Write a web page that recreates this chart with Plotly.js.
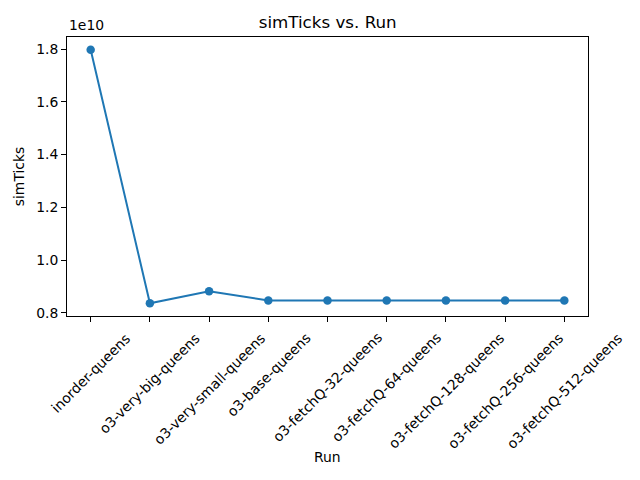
<!DOCTYPE html>
<html>
<head>
<meta charset="utf-8">
<script src="https://cdn.plot.ly/plotly-3.0.1.min.js"></script>
<style>
  html, body { margin: 0; padding: 0; background: #fff; }
  #chart { width: 640px; height: 480px; }
</style>
</head>
<body>
<div id="chart"></div>
<script>
// runs along the x axis
var runs = ['inorder-queens', 'o3-very-big-queens', 'o3-very-small-queens', 'o3-base-queens',
    'o3-fetchQ-32-queens', 'o3-fetchQ-64-queens', 'o3-fetchQ-128-queens',
    'o3-fetchQ-256-queens', 'o3-fetchQ-512-queens']
// simTicks per run
var simTicks = [1.7977e10, 0.836e10, 0.882e10, 0.847e10, 0.847e10, 0.847e10, 0.847e10, 0.847e10, 0.847e10]
var yTickVals = [0.8e10, 1.0e10, 1.2e10, 1.4e10, 1.6e10, 1.8e10]
var yTickText = ['0.8', '1.0', '1.2', '1.4', '1.6', '1.8']

var FONT = 'DejaVu Sans, sans-serif'
var FS = 13.9
var idx = runs.map(function (r, i) { return i })

var trace = {
    type: 'scatter',
    mode: 'lines+markers',
    x: idx,
    y: simTicks,
    line: { color: '#1f77b4', width: 2 },
    marker: { color: '#1f77b4', size: 8.5 },
    hoverinfo: 'x+y',
}

// matplotlib-style rotated labels, centred under each tick
var annotations = runs.map(function (r, i) {
    return {
        x: i, xref: 'x', y: 0, yref: 'paper',
        text: r, showarrow: false, textangle: -45,
        xanchor: 'center', yanchor: 'top', yshift: -11,
        font: { family: FONT, size: FS, color: '#000' },
    }
})
annotations.push({
    x: 0, xref: 'paper', y: 1, yref: 'paper', yshift: 2,
    text: '1e10', showarrow: false, xanchor: 'left', yanchor: 'bottom',
    font: { family: FONT, size: FS, color: '#000' },
})
annotations.push({
    x: 0.5, xref: 'paper', y: 0, yref: 'paper', yshift: -141,
    text: 'Run', showarrow: false, xanchor: 'center', yanchor: 'middle',
    font: { family: FONT, size: FS, color: '#000' },
})

var yMin = Math.min.apply(null, simTicks), yMax = Math.max.apply(null, simTicks)
var pad = (yMax - yMin) * 0.05

var layout = {
    width: 640,
    height: 480,
    margin: { l: 67, r: 52, t: 37, b: 164 },
    paper_bgcolor: '#fff',
    plot_bgcolor: '#fff',
    showlegend: false,
    font: { family: FONT, size: FS, color: '#000' },
    title: { text: 'simTicks vs. Run', x: 0.512, xanchor: 'center', y: 0.953, yanchor: 'middle',
        font: { family: FONT, size: 16.7, color: '#000' } },
    xaxis: {
        range: [-0.4, runs.length - 1 + 0.4],
        tickvals: idx,
        showticklabels: false,
        ticks: 'outside', ticklen: 5, tickcolor: '#000', tickwidth: 1,
        showline: true, linecolor: '#000', linewidth: 1, mirror: true,
        showgrid: false, zeroline: false,
    },
    yaxis: {
        range: [yMin - pad, yMax + pad],
        tickvals: yTickVals,
        ticktext: yTickText,
        ticks: 'outside', ticklen: 5, tickcolor: '#000', tickwidth: 1,
        showline: true, linecolor: '#000', linewidth: 1, mirror: true,
        showgrid: false, zeroline: false,
        tickfont: { family: FONT, size: FS },
        title: { text: 'simTicks', standoff: 8, font: { family: FONT, size: FS } },
    },
    annotations: annotations,
}

Plotly.newPlot('chart', [trace], layout, { displayModeBar: false, staticPlot: true })
</script>
</body>
</html>
